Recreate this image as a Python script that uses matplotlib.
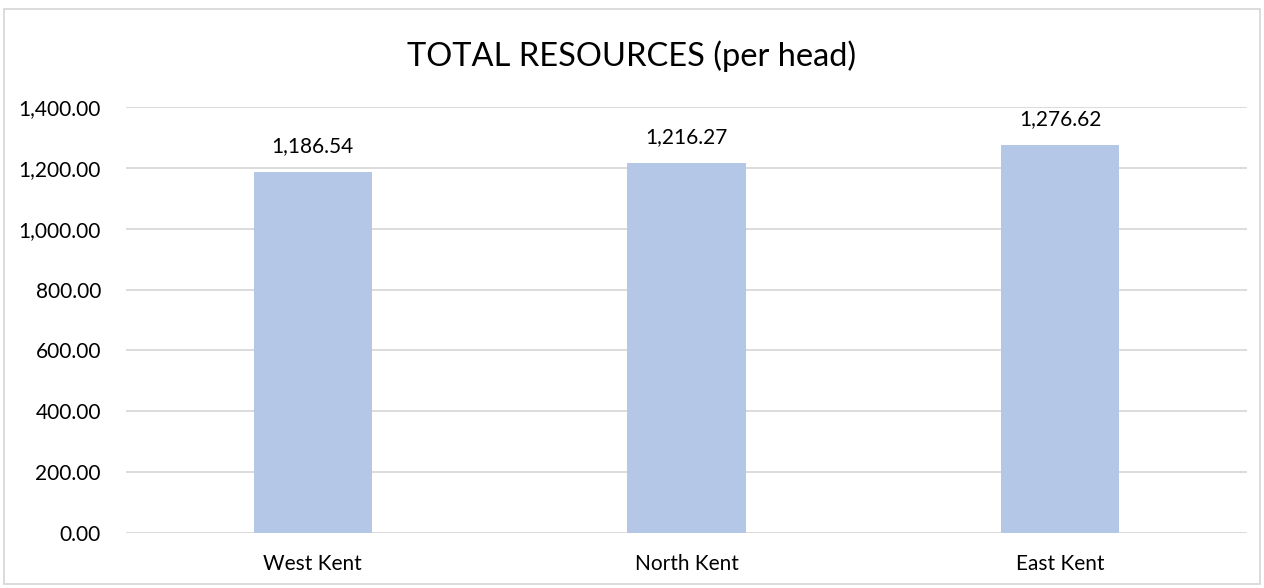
import matplotlib.pyplot as plt
from matplotlib.patches import Rectangle
from matplotlib.ticker import FuncFormatter

regions = ["West Kent", "North Kent", "East Kent"]
resources = [1186.54, 1216.27, 1276.62]
y_ticks = [0, 200, 400, 600, 800, 1000, 1200, 1400]

plt.rcParams['font.family'] = ['Lato', 'DejaVu Sans']

fig = plt.figure(figsize=(12.64, 5.88), dpi=100)
ax = fig.add_axes([126 / 1264, 1 - 533 / 588, 1121 / 1264, 426 / 588])

x = range(len(regions))
bars = ax.bar(x, resources, width=0.316, color="#b4c7e7", zorder=2)
for b, v in zip(bars, resources):
    ax.annotate(f"{v:,.2f}", (b.get_x() + b.get_width() / 2, v),
                xytext=(0, 14), textcoords="offset points",
                ha="center", va="baseline", fontsize=15, color="#000000")

ax.set_xlim(-0.5, len(regions) - 0.5)
ax.set_ylim(0, 1400)
ax.set_yticks(y_ticks)
ax.yaxis.set_major_formatter(FuncFormatter(lambda v, p: f"{v:,.2f}"))
ax.set_xticks(list(x))
ax.set_xticklabels(regions)
ax.tick_params(axis="both", length=0, labelsize=15, colors="#000000")
ax.tick_params(axis="y", pad=18)
ax.tick_params(axis="x", pad=15)
ax.grid(axis="y", color="#d9d9d9", linewidth=1.3, zorder=0)
for s in ax.spines.values():
    s.set_visible(False)

fig.text(0.5, 1 - 56 / 588, "TOTAL RESOURCES (per head)", ha="center", va="center",
         fontsize=23.5, color="#000000")

# chart outline
fig.patches.append(Rectangle((4 / 1264, 4 / 588), 1256 / 1264, 575 / 588,
                             transform=fig.transFigure, fill=False,
                             edgecolor="#d9d9d9", linewidth=1.3))

fig.savefig("out.png", dpi=100)
